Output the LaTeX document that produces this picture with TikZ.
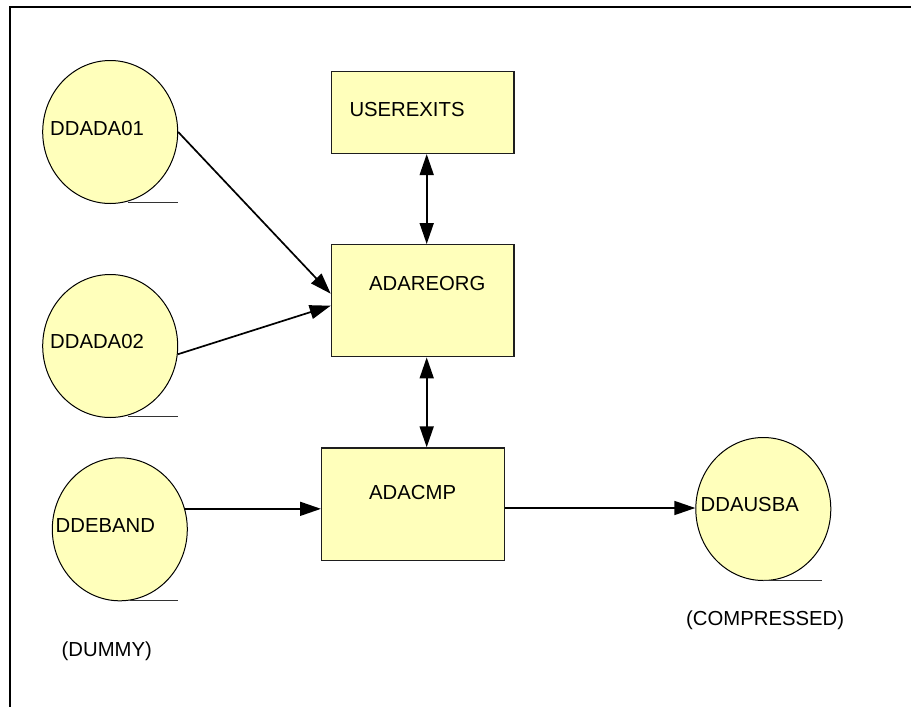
\documentclass[tikz,border=0pt]{standalone}
\usepackage{fontspec}
\setmainfont{Liberation Sans}
\usetikzlibrary{shapes.geometric,arrows.meta,calc}
\definecolor{fillyellow}{RGB}{255,255,187}
\definecolor{edgegray}{RGB}{30,30,30}
\tikzset{
  dataset/.style={ellipse, draw=black, line width=1pt, fill=fillyellow,
    minimum width=135pt, minimum height=143pt, inner sep=0pt},
  procbox/.style={rectangle, draw=edgegray, line width=1.4pt, fill=fillyellow,
    inner sep=0pt, anchor=north west},
  lbl/.style={anchor=base west, inner sep=0pt, font=\fontsize{20.3}{24}\selectfont},
  uline/.style={line width=1pt, draw=black!80},
  conn/.style={line width=1.7pt, -{Triangle[length=21pt,width=14pt]}},
  dconn/.style={line width=1.7pt, {Triangle[length=21pt,width=14pt]}-{Triangle[length=21pt,width=14pt]}},
}
\begin{document}
\begin{tikzpicture}[x=1pt,y=-1pt]
\useasboundingbox (0,0) rectangle (911,707);
% frame
\draw[line width=2.6pt] (10,708) -- (10,7) -- (912,7);

% boxes
\node[procbox, minimum width=182.6pt, minimum height=82pt] (userexits) at (330.7,70.7) {};
\node[procbox, minimum width=182.6pt, minimum height=112pt] (adareorg) at (330.7,244) {};
\node[procbox, minimum width=183pt, minimum height=112.7pt] (adacmp) at (321,447.3) {};

% datasets
\node[dataset] (ddada01) at (110.2,132) {};
\node[dataset] (ddada02) at (110.2,346) {};
\node[dataset] (ddeband) at (119.8,529.3) {};
\node[dataset] (ddausba) at (763.3,509) {};

% underlines
\coordinate (u1a) at (128,202.5); \coordinate (u1b) at (178,202.5);
\coordinate (u2a) at (128,416.8); \coordinate (u2b) at (178,416.8);
\coordinate (u3a) at (130,600.2); \coordinate (u3b) at (178,600.2);
\coordinate (u4a) at (763,580.3); \coordinate (u4b) at (822,580.3);
\draw[uline] (u1a) -- (u1b);
\draw[uline] (u2a) -- (u2b);
\draw[uline] (u3a) -- (u3b);
\draw[uline] (u4a) -- (u4b);

% labels
\node[lbl] (t1) at (50,135) {DDADA01};
\node[lbl] (t2) at (50,348) {DDADA02};
\node[lbl] (t3) at (55.5,532.3) {DDEBAND};
\node[lbl] (t4) at (700.5,511) {DDAUSBA};
\node[lbl] (t5) at (349.3,116) {USEREXITS};
\node[lbl] (t6) at (369,290) {ADAREORG};
\node[lbl] (t7) at (369,499.3) {ADACMP};
\node[lbl] (t8) at (61.5,656) {(DUMMY)};
\node[lbl] (t9) at (686,625) {(COMPRESSED)};

% connectors
\draw[conn] (ddada01.east) -- ([yshift=7pt]adareorg.west);
\draw[conn] (ddada02.-7) -- ([yshift=-5pt]adareorg.west);
\draw[dconn] ([xshift=4pt]userexits.south) -- ([xshift=4pt]adareorg.north);
\draw[dconn] ([xshift=4pt]adareorg.south) -- ([xshift=4pt]adareorg.south |- adacmp.north);
\draw[conn] ([yshift=0.5pt]ddeband.17) -- ([yshift=0.5pt]ddeband.17 -| adacmp.west);
\draw[conn] ([yshift=1pt]adacmp.east |- ddausba.west) -- ([yshift=1pt]ddausba.west);
\end{tikzpicture}
\end{document}
